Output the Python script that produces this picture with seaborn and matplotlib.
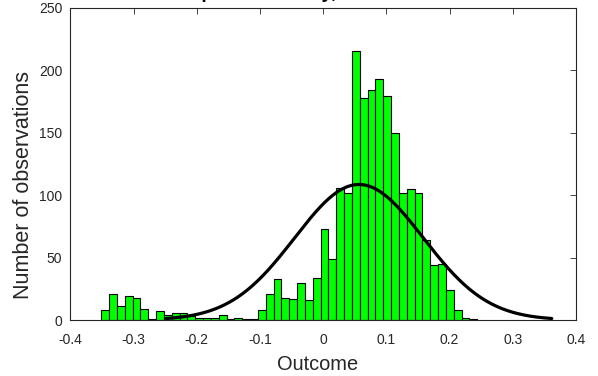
import numpy as np
import pandas as pd
import matplotlib
matplotlib.use('Agg')
import matplotlib.pyplot as plt
import seaborn as sns

# 直方图数据
bin_lo = -0.351
bin_hi = 0.2437
counts = [8, 21, 11, 19, 18, 9, 1, 7, 4, 6, 6, 3, 2, 2, 2, 4, 1, 2, 1, 1,
          8, 21, 33, 18, 17, 30, 16, 34, 73, 49, 106, 102, 215, 178, 184, 193,
          179, 150, 102, 105, 102, 64, 44, 45, 24, 8, 2, 1]

# 拟合正态曲线参数
mu = 0.0566
sigma = 0.1017

x_ticks = [-0.4, -0.3, -0.2, -0.1, 0, 0.1, 0.2, 0.3, 0.4]
x_ticklabels = ['-0.4', '-0.3', '-0.2', '-0.1', '0', '0.1', '0.2', '0.3', '0.4']
y_ticks = [0, 50, 100, 150, 200, 250]

sns.set_style('white')
plt.rcParams['font.family'] = ['Liberation Sans', 'DejaVu Sans']
plt.rcParams['xtick.direction'] = 'in'
plt.rcParams['ytick.direction'] = 'in'

edges = np.linspace(bin_lo, bin_hi, len(counts) + 1)
centers = (edges[:-1] + edges[1:]) / 2
df = pd.DataFrame({'x': centers, 'n': counts})

bw = edges[1] - edges[0]
N = sum(counts)
xs = np.linspace(mu - 3 * sigma, mu + 3 * sigma, 300)
ys = N * bw / (sigma * np.sqrt(2 * np.pi)) * np.exp(-0.5 * ((xs - mu) / sigma) ** 2)
curve = pd.DataFrame({'x': xs, 'y': ys})

fig = plt.figure(figsize=(5.98, 3.76), dpi=100)
ax = fig.add_axes([0.1176, 0.1489, 0.9632 - 0.1176, 0.98 - 0.1489])

sns.histplot(data=df, x='x', weights='n', bins=edges.tolist(), ax=ax,
             color='#00ff00', edgecolor='black', linewidth=0.8, alpha=1)
sns.lineplot(data=curve, x='x', y='y', ax=ax, color='black', linewidth=2.3)

ax.set_xlim(-0.4, 0.4)
ax.set_ylim(0, 250)
ax.set_xticks(x_ticks)
ax.set_xticklabels(x_ticklabels)
ax.set_yticks(y_ticks)
ax.tick_params(labelsize=10, colors='#262626', length=4, width=0.6,
               top=True, right=True)
ax.tick_params(axis='x', pad=9.5)
ax.tick_params(axis='y', pad=5.8)
for s in ax.spines.values():
    s.set_color('#262626')
    s.set_linewidth(0.8)

ax.set_xlabel('Outcome', fontsize=14.4, color='#262626')
ax.set_ylabel('Number of observations', fontsize=15.5, color='#262626')
ax.xaxis.set_label_coords(0.488, -0.112)
ax.yaxis.set_label_coords(-0.0722, 0.432)

# 标题大部分被裁掉，只露出下伸部分
fig.text(0.5406, 1.0055, 'Empirical density, with normal fit', ha='center',
         va='baseline', fontsize=14, fontweight='bold', color='black')

fig.savefig('out.png', dpi=100)
